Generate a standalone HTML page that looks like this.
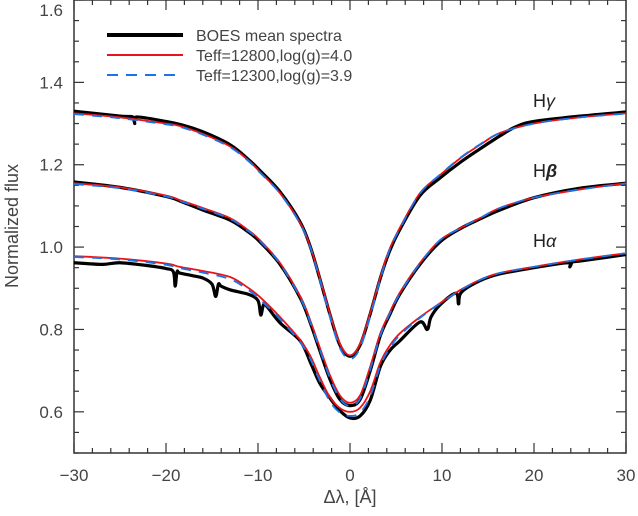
<!DOCTYPE html>
<html><head><meta charset="utf-8"><style>
body{margin:0;background:#fff}
svg{display:block;font-family:"Liberation Sans","DejaVu Sans",sans-serif}
</style></head><body>
<svg id="chart" width="638" height="516" viewBox="0 0 638 516" xmlns="http://www.w3.org/2000/svg">
<g id="axes"></g>
<g id="series"></g>
<g id="legend">
 <line x1="107" y1="35" x2="183" y2="35" stroke="#000" stroke-width="4"/>
 <text x="196" y="41" font-size="16" fill="#444">BOES mean spectra</text>
 <line x1="107" y1="55" x2="183" y2="55" stroke="#e8141c" stroke-width="2"/>
 <text x="196" y="61" font-size="16" fill="#444">Teff=12800,log(g)=4.0</text>
 <line x1="107" y1="75" x2="183" y2="75" stroke="#1a74e8" stroke-width="2" stroke-dasharray="11,8"/>
 <text x="196" y="81" font-size="16" fill="#444">Teff=12300,log(g)=3.9</text>
</g>
<text x="533" y="107" font-size="18" fill="#222">H<tspan font-style="italic">γ</tspan></text>
<text x="533" y="177" font-size="18" fill="#222">H<tspan font-style="italic" font-weight="bold">β</tspan></text>
<text x="533" y="247" font-size="18" fill="#222">H<tspan font-style="italic">α</tspan></text>
<text x="350" y="503" font-size="18" fill="#444" text-anchor="middle">Δλ, [Å]</text>
<text transform="translate(18,226) rotate(-90)" font-size="18" fill="#444" text-anchor="middle">Normalized flux</text>
</svg>
<script>
const modelX = [-30,-25,-20,-18.5,-16,-13,-11,-9.8,-7.6,-5.4,-4.3,-3.3,-2.2,-1.1,0,1.1,2.2,3.3,4.3,5.4,7.6,9.8,12,14.1,16.3,20,25,30];
const hgRed = [1.325,1.315,1.30,1.294,1.275,1.244,1.21,1.183,1.131,1.058,1.0,0.927,0.84,0.765,0.737,0.765,0.84,0.927,0.995,1.046,1.131,1.175,1.216,1.248,1.277,1.30,1.315,1.325];
const hgBlue = [1.323,1.313,1.298,1.292,1.273,1.242,1.208,1.181,1.13,1.056,0.998,0.922,0.832,0.755,0.728,0.755,0.832,0.922,0.993,1.044,1.13,1.176,1.217,1.249,1.277,1.30,1.315,1.324];
const hbRed = [1.155,1.145,1.125,1.114,1.095,1.07,1.04,1.017,0.961,0.879,0.82,0.757,0.69,0.64,0.622,0.64,0.71,0.79,0.84,0.888,0.961,1.017,1.046,1.07,1.095,1.12,1.14,1.155];
const hbBlue = [1.153,1.143,1.123,1.112,1.093,1.068,1.038,1.015,0.959,0.876,0.816,0.752,0.683,0.632,0.614,0.632,0.703,0.785,0.837,0.886,0.96,1.017,1.046,1.07,1.095,1.12,1.14,1.154];
const haRed = [0.978,0.972,0.96,0.952,0.942,0.927,0.9,0.879,0.83,0.774,0.735,0.685,0.636,0.609,0.60,0.61,0.65,0.72,0.76,0.79,0.83,0.864,0.896,0.92,0.937,0.952,0.97,0.985];
const haBlue = [0.976,0.97,0.957,0.949,0.938,0.922,0.895,0.873,0.825,0.768,0.728,0.676,0.626,0.598,0.59,0.598,0.638,0.712,0.754,0.786,0.828,0.863,0.895,0.92,0.937,0.952,0.97,0.985];

const hgObsX = [-30,-25,-23.6,-23.4,-23.2,-20,-18.5,-16,-13,-11,-9.8,-7.6,-5.4,-4.3,-3.3,-2.2,-1.1,0,1.1,2.2,3.3,4.3,5.4,7.6,9.8,12,14.1,16.3,18,20,25,30];
const hgObs = [1.33,1.318,1.316,1.30,1.316,1.305,1.298,1.28,1.248,1.212,1.186,1.134,1.06,1.0,0.925,0.838,0.762,0.735,0.762,0.838,0.925,0.99,1.042,1.125,1.168,1.206,1.238,1.27,1.292,1.305,1.318,1.328];
const hbObsX = [-30,-25,-20,-18.5,-16,-13,-11,-9.8,-7.6,-5.4,-4.3,-3.3,-2.2,-1.1,0,1.1,2.2,3.3,4.3,5.4,7.6,9.8,12,14.1,16.3,20,25,30];
const hbObs = [1.158,1.145,1.123,1.112,1.09,1.065,1.036,1.013,0.958,0.876,0.815,0.75,0.68,0.63,0.615,0.63,0.7,0.785,0.835,0.885,0.958,1.013,1.045,1.068,1.09,1.12,1.143,1.155];
const haObsX = [-30,-27,-25,-22,-20,-19.2,-19,-18.8,-18.5,-17,-16,-15,-14.6,-14.3,-14,-13,-11,-10,-9.7,-9.4,-9,-7.6,-5.4,-4.3,-3.3,-2.2,-1.1,0,1.1,2.2,3.3,4.3,5.4,7.6,8.4,8.8,9.8,11.5,11.8,12.1,14.1,16.3,20,23.6,23.9,24.2,25,30];
const haObs = [0.962,0.958,0.962,0.955,0.948,0.94,0.905,0.94,0.937,0.93,0.925,0.91,0.88,0.91,0.905,0.896,0.885,0.87,0.835,0.86,0.855,0.816,0.772,0.72,0.67,0.634,0.603,0.585,0.59,0.628,0.71,0.748,0.772,0.818,0.8,0.83,0.86,0.888,0.862,0.89,0.918,0.935,0.95,0.962,0.952,0.964,0.966,0.982];

const X0=74,X1=626,Y0=453,Y1=0;
function sx(v){return X0+(v+30)/60*(X1-X0);}
function sy(v){return Y0-(v-0.5)/1.1*(Y0-Y1);}
const NS='http://www.w3.org/2000/svg';
function mk(tag,attrs,parent){const e=document.createElementNS(NS,tag);for(const k in attrs)e.setAttribute(k,attrs[k]);parent.appendChild(e);return e;}
function pathD(xs,ys){
  const p=xs.map((x,i)=>[sx(x),sy(ys[i])]);
  let d='M'+p[0][0].toFixed(2)+','+p[0][1].toFixed(2);
  for(let i=0;i<p.length-1;i++){
    const a=p[Math.max(0,i-1)],b=p[i],c=p[i+1],e=p[Math.min(p.length-1,i+2)];
    const c1=[b[0]+(c[0]-a[0])/6,b[1]+(c[1]-a[1])/6],c2=[c[0]-(e[0]-b[0])/6,c[1]-(e[1]-b[1])/6];
    d+=' C'+c1[0].toFixed(2)+','+c1[1].toFixed(2)+' '+c2[0].toFixed(2)+','+c2[1].toFixed(2)+' '+c[0].toFixed(2)+','+c[1].toFixed(2);
  }
  return d;
}
const ser=document.getElementById('series');
const obs=[[hgObsX,hgObs,'h-gamma'],[hbObsX,hbObs,'h-beta'],[haObsX,haObs,'h-alpha']];
obs.forEach(o=>{
  const el=mk('path',{d:pathD(o[0],o[1]),fill:'none',stroke:'#000','stroke-width':3.2,'stroke-linejoin':'round'},ser);
  
  
});
[[hgRed,'h-gamma'],[hbRed,'h-beta'],[haRed,'h-alpha']].forEach(o=>{
  const el=mk('path',{d:pathD(modelX,o[0]),fill:'none',stroke:'#e8141c','stroke-width':1.8},ser);
  
  
});
[[hgBlue,'h-gamma'],[hbBlue,'h-beta'],[haBlue,'h-alpha']].forEach(o=>{
  const el=mk('path',{d:pathD(modelX,o[0]),fill:'none',stroke:'#1a74e8','stroke-width':1.8,'stroke-dasharray':'10,8'},ser);
  
  
});

const ax=document.getElementById('axes');
const frame=mk('rect',{x:X0,y:Y1,width:X1-X0,height:Y0-Y1,fill:'none',stroke:'#333','stroke-width':1.5},ax);


const xTicks=[-30,-20,-10,0,10,20,30];
const yTicks=[0.6,0.8,1.0,1.2,1.4,1.6];
for(let v=-30;v<=30;v+=2){
  const major=v%10===0,L=major?10:5,x=sx(v);
  mk('line',{x1:x,y1:Y0,x2:x,y2:Y0-L,stroke:'#333','stroke-width':1.2},ax);
  mk('line',{x1:x,y1:Y1,x2:x,y2:Y1+L,stroke:'#333','stroke-width':1.2},ax);
}
for(let i=0;i<=22;i++){
  const v=0.5+i*0.05,major=(i%4===2),L=major?10:5,y=sy(v);
  mk('line',{x1:X0,y1:y,x2:X0+L,y2:y,stroke:'#333','stroke-width':1.2},ax);
  mk('line',{x1:X1,y1:y,x2:X1-L,y2:y,stroke:'#333','stroke-width':1.2},ax);
}
xTicks.forEach(v=>{
  const t=mk('text',{x:sx(v),y:481,'font-size':17,fill:'#444','text-anchor':'middle'},ax);
  t.textContent=(v<0?'\u2212'+(-v):String(v));
  
  
});
yTicks.forEach(v=>{
  const t=mk('text',{x:63,y:Math.max(sy(v)+6,16),'font-size':17,fill:'#444','text-anchor':'end'},ax);
  t.textContent=v.toFixed(1);
  
  
});
</script>
</body></html>
